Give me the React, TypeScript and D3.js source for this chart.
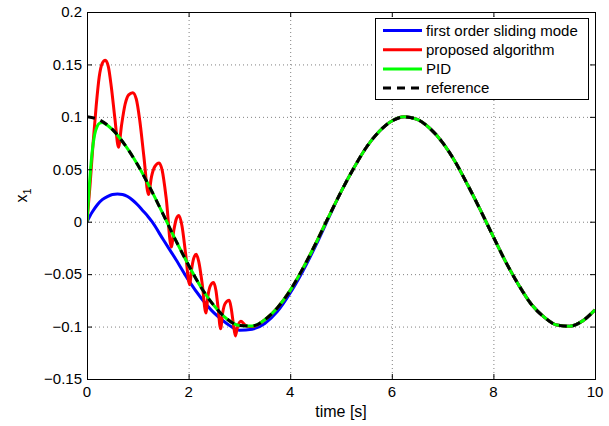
import React from "react";
import * as d3 from "d3";

// time axis and y ticks
const xTicks = [0, 2, 4, 6, 8, 10];
const yTicks = [-0.15, -0.1, -0.05, 0, 0.05, 0.1, 0.15, 0.2];
const yTickLabels = ["\u22120.15", "\u22120.1", "\u22120.05", "0", "0.05", "0.1", "0.15", "0.2"];

// reference trajectory
const refT = [0, 0.25, 0.5, 0.75, 1, 1.25, 1.5, 1.75, 2, 2.25, 2.5, 2.75, 3, 3.25, 3.5, 3.75, 4, 4.25, 4.5, 4.75, 5,
  5.25, 5.5, 5.75, 6, 6.25, 6.5, 6.75, 7, 7.25, 7.5, 7.75, 8, 8.25, 8.5, 8.75, 9, 9.25, 9.5, 9.75, 10];
const refX = [0.1, 0.097, 0.088, 0.073, 0.054, 0.0315, 0.007, -0.018, -0.0415, -0.063, -0.08, -0.0925, -0.099, -0.0995,
  -0.0935, -0.082, -0.0655, -0.0445, -0.021, 0.004, 0.0285, 0.051, 0.071, 0.086, 0.096, 0.1, 0.0975, 0.089, 0.0755,
  0.057, 0.0345, 0.0105, -0.0145, -0.039, -0.0605, -0.079, -0.091, -0.0985, -0.0997, -0.0948, -0.084];

// first order sliding mode (transient part)
const smcT = [0, 0.1, 0.2, 0.3, 0.4, 0.5, 0.6, 0.7, 0.8, 0.9, 1, 1.1, 1.2, 1.28, 1.5, 1.75, 2, 2.25, 2.5, 2.75, 3, 3.25,
  3.5, 3.75, 4, 4.25, 4.5, 4.75];
const smcX = [0, 0.009, 0.016, 0.021, 0.024, 0.026, 0.0265, 0.026, 0.024, 0.0205, 0.016, 0.0105, 0.005, 0, -0.017,
  -0.036, -0.056, -0.073, -0.087, -0.097, -0.1035, -0.1025, -0.097, -0.0855, -0.068, -0.047, -0.023, 0.003];

// proposed algorithm (transient part)
const propT = [0, 0.06, 0.12, 0.18, 0.24, 0.3, 0.36, 0.42, 0.48, 0.55, 0.62, 0.68, 0.75, 0.82, 0.9, 0.97, 1.04, 1.12,
  1.21, 1.27, 1.34, 1.42, 1.48, 1.56, 1.66, 1.71, 1.76, 1.81, 1.87, 1.94, 2.02, 2.06, 2.1, 2.15, 2.2, 2.27, 2.34, 2.38,
  2.43, 2.49, 2.54, 2.58, 2.63, 2.67, 2.72, 2.8, 2.84, 2.88, 2.92, 2.96, 3.03, 3.1, 3.18, 3.25];
const propX = [0, 0.035, 0.075, 0.11, 0.138, 0.151, 0.154, 0.148, 0.128, 0.098, 0.071, 0.092, 0.112, 0.121, 0.123,
  0.117, 0.096, 0.062, 0.026, 0.043, 0.053, 0.056, 0.049, 0.022, -0.024, -0.008, 0.003, 0.006, -0.004, -0.03, -0.06,
  -0.045, -0.035, -0.031, -0.038, -0.06, -0.087, -0.071, -0.061, -0.058, -0.066, -0.082, -0.102, -0.087, -0.078,
  -0.075, -0.083, -0.097, -0.109, -0.101, -0.095, -0.098, -0.1, -0.1];

// PID (transient part)
const pidT = [0, 0.05, 0.1, 0.15, 0.2, 0.25, 0.3, 0.4, 0.5];
const pidX = [0, 0.037, 0.066, 0.083, 0.091, 0.094, 0.0945, 0.092, 0.0878];

const W = 609;
const H = 426;
const left = 87, right = 595, top = 12, bottom = 379;

type P = [number, number];
const zip = (t: number[], v: number[]): P[] => t.map((d, i) => [d, v[i]]);
const tail = (from: number): P[] => zip(refT, refX).filter((d) => d[0] > from);

const refData = zip(refT, refX);
const smcData = zip(smcT, smcX).concat(tail(4.8));
const propData = zip(propT, propX).concat(tail(3.3));
const pidData = zip(pidT, pidX).concat(tail(0.55));

const series = [
  { name: "first order sliding mode", color: "#0000ff", data: smcData, dash: "" },
  { name: "proposed algorithm", color: "#ff0000", data: propData, dash: "" },
  { name: "PID", color: "#00ff00", data: pidData, dash: "" },
  { name: "reference", color: "#000000", data: refData, dash: "8 6" },
];

const App = () => {
  const x = d3.scaleLinear().domain([0, 10]).range([left, right]);
  const y = d3.scaleLinear().domain([-0.15, 0.2]).range([bottom, top]);
  const line = d3
    .line<P>()
    .x((d) => x(d[0]))
    .y((d) => y(d[1]))
    .curve(d3.curveMonotoneX);

  const font = "'Liberation Sans', Arial, Helvetica, sans-serif";

  return (
    <svg width={W} height={H} style={{ position: "absolute", left: 0, top: 0, background: "#fff" }} fontFamily={font}>
      <rect x={0} y={0} width={W} height={H} fill="#fff" />
      <defs>
        <clipPath id="plot">
          <rect x={left} y={top} width={right - left} height={bottom - top} />
        </clipPath>
      </defs>
      {/* grid */}
      <g stroke="#808080" strokeWidth={1} strokeDasharray="1 3">
        {xTicks.slice(1, -1).map((t) => (
          <line key={"gx" + t} x1={x(t) + 0.5} x2={x(t) + 0.5} y1={top} y2={bottom} />
        ))}
        {yTicks.slice(1, -1).map((t) => (
          <line key={"gy" + t} x1={left} x2={right} y1={y(t) + 0.5} y2={y(t) + 0.5} />
        ))}
      </g>
      {/* data */}
      <g clipPath="url(#plot)" fill="none">
        {series.map((s) => (
          <path
            key={s.name}
            d={line(s.data) || ""}
            stroke={s.color}
            strokeWidth={3}
            strokeDasharray={s.dash || undefined}
            strokeLinejoin="round"
          />
        ))}
      </g>
      {/* box and ticks */}
      <rect x={left + 0.5} y={top + 0.5} width={right - left} height={bottom - top} fill="none" stroke="#000" strokeWidth={1} />
      <g stroke="#000" strokeWidth={1}>
        {xTicks.map((t) => (
          <g key={"tx" + t}>
            <line x1={x(t) + 0.5} x2={x(t) + 0.5} y1={bottom} y2={bottom - 5} />
            <line x1={x(t) + 0.5} x2={x(t) + 0.5} y1={top} y2={top + 5} />
          </g>
        ))}
        {yTicks.map((t) => (
          <g key={"ty" + t}>
            <line x1={left} x2={left + 5} y1={y(t) + 0.5} y2={y(t) + 0.5} />
            <line x1={right} x2={right - 5} y1={y(t) + 0.5} y2={y(t) + 0.5} />
          </g>
        ))}
      </g>
      <g fontSize={15} fill="#000">
        {xTicks.map((t) => (
          <text key={"lx" + t} x={x(t)} y={386} dy="0.71em" textAnchor="middle">
            {t}
          </text>
        ))}
        {yTicks.map((t, i) => (
          <text key={"ly" + t} x={82} y={y(t)} dy="0.35em" textAnchor="end">
            {yTickLabels[i]}
          </text>
        ))}
      </g>
      <text x={(left + right) / 2} y={417} fontSize={16} textAnchor="middle">
        time [s]
      </text>
      <text transform={`translate(27,${(top + bottom) / 2}) rotate(-90)`} fontSize={16} textAnchor="middle">
        x<tspan fontSize={11} dy={4}>1</tspan>
      </text>
      {/* legend */}
      <g>
        <rect x={375.5} y={18.5} width={213} height={81} fill="#fff" stroke="#000" strokeWidth={1} />
        {series.map((s, i) => {
          const ly = 30.5 + i * 19.2;
          return (
            <g key={"lg" + s.name}>
              <line x1={383} x2={422} y1={ly} y2={ly} stroke={s.color} strokeWidth={3} strokeDasharray={s.dash || undefined} />
              <text x={426} y={ly} dy="0.35em" fontSize={15}>
                {s.name}
              </text>
            </g>
          );
        })}
      </g>
    </svg>
  );
};

export default App;
